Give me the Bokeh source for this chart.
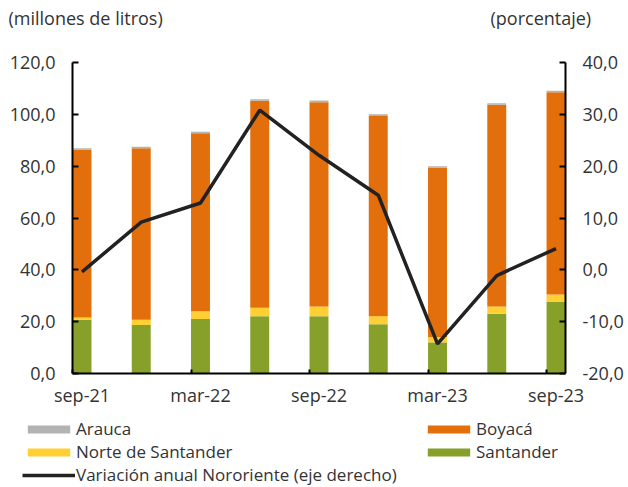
from bokeh.plotting import figure
from bokeh.models import (ColumnDataSource, Range1d, LinearAxis, FixedTicker, Legend, LegendItem, Label)
from bokeh.embed import file_html
from bokeh.resources import INLINE

# ---- data ----
periods = ["sep-21", "dic-21", "mar-22", "jun-22", "sep-22", "dic-22", "mar-23", "jun-23", "sep-23"]
tick_labels = ["sep-21", "mar-22", "sep-22", "mar-23", "sep-23"]
santander = [20.7, 18.7, 21.0, 22.1, 22.1, 19.0, 12.0, 23.0, 27.6]
norte = [0.9, 2.0, 3.0, 3.3, 3.8, 3.1, 2.1, 2.9, 2.9]
boyaca = [64.7, 66.2, 68.7, 79.8, 78.8, 77.3, 65.3, 77.8, 78.0]
arauca = [0.6, 0.6, 0.6, 0.6, 0.6, 0.6, 0.6, 0.6, 0.6]
variacion = [-0.4, 9.2, 12.9, 30.8, 22.1, 14.4, -14.3, -1.1, 4.1]
left_ticks = [0, 20, 40, 60, 80, 100, 120]
right_ticks = [-20, -10, 0, 10, 20, 30, 40]
titles = ["(millones de litros)", "(porcentaje)"]
line_name = "Variación anual Nororiente (eje derecho)"

FONT = "Open Sans"
TXT = "#333333"
FS = "18px"
BW = 0.32
W, H = 626, 486
# plot-area geometry in canvas pixels
FL, FR, FT, FB = 72, 565, 62, 373
colors = ["#86A02A", "#FFCF33", "#E36F0C", "#B3B3B3"]
LINE_COLOR = "#222222"

xs = list(range(len(periods)))
x0, x1 = -BW / 2, xs[-1] + BW / 2
y0, y1 = left_ticks[0], left_ticks[-1]
r0, r1 = right_ticks[0], right_ticks[-1]
kx = (x1 - x0) / (FR - FL)
ky = (y1 - y0) / (FB - FT)
kr = (r1 - r0) / (FB - FT)

src = ColumnDataSource(dict(x=xs, santander=santander, norte=norte, boyaca=boyaca, arauca=arauca, var=variacion))

p = figure(width=W, height=H, output_backend="svg", toolbar_location=None,
           x_range=Range1d(x0 - FL * kx, x1 + (W - FR) * kx),
           y_range=Range1d(y0 - (H - FB) * ky, y1 + FT * ky), min_border=0)
p.extra_y_ranges = {"pct": Range1d(r0 - (H - FB) * kr, r1 + FT * kr)}
p.outline_line_color = None
p.xgrid.visible = False
p.ygrid.visible = False
p.xaxis.visible = False
p.yaxis.visible = False

rs = p.vbar_stack(["santander", "norte", "boyaca", "arauca"], x="x", width=BW, source=src,
                  color=colors, line_color=None)
ln = p.line("x", "var", source=src, y_range_name="pct", line_color=LINE_COLOR, line_width=3.5)

def style(ax):
    ax.axis_line_color = "black"
    ax.axis_line_width = 2
    ax.major_tick_line_color = "black"
    ax.major_tick_line_width = 2
    ax.minor_tick_line_color = None
    ax.major_label_text_font = FONT
    ax.major_label_text_font_size = FS
    ax.major_label_text_color = TXT

yl = LinearAxis(fixed_location=x0, bounds=(y0, y1))
style(yl)
yl.ticker = FixedTicker(ticks=left_ticks)
yl.major_label_overrides = {t: f"{t:.1f}".replace(".", ",") for t in left_ticks}
yl.major_tick_in = 6
yl.major_tick_out = 0
yl.major_label_standoff = 17
p.add_layout(yl, "left")

yr = LinearAxis(y_range_name="pct", fixed_location=x1, bounds=(r0, r1))
style(yr)
yr.ticker = FixedTicker(ticks=right_ticks)
yr.major_label_overrides = {t: f"{t:.1f}".replace(".", ",") for t in right_ticks}
yr.major_tick_in = 6
yr.major_tick_out = 0
yr.major_label_standoff = 17
p.add_layout(yr, "right")

xa = LinearAxis(fixed_location=y0, bounds=(x0, x1))
style(xa)
tick_pos = xs[::2]
xa.ticker = FixedTicker(ticks=tick_pos, minor_ticks=[t - BW / 2 for t in tick_pos])
xa.major_label_overrides = {t: lab for t, lab in zip(tick_pos, tick_labels)}
xa.major_tick_in = 0
xa.major_tick_out = 0
xa.minor_tick_line_color = "black"
xa.minor_tick_line_width = 2
xa.minor_tick_in = 4
xa.minor_tick_out = 0
xa.major_label_standoff = 9
p.add_layout(xa, "below")

# unit titles
p.add_layout(Label(x=8, y=H - 17, x_units="screen", y_units="screen", text=titles[0],
                   text_font=FONT, text_font_size=FS, text_color=TXT, text_baseline="middle"))
p.add_layout(Label(x=490, y=H - 17, x_units="screen", y_units="screen", text=titles[1],
                   text_font=FONT, text_font_size=FS, text_color=TXT, text_baseline="middle"))

legend = Legend(items=[
    LegendItem(label="Arauca", renderers=[rs[3]]),
    LegendItem(label="Norte de Santander", renderers=[rs[1]]),
    LegendItem(label=line_name, renderers=[ln]),
    LegendItem(label="Boyacá", renderers=[rs[2]]),
    LegendItem(label="Santander", renderers=[rs[0]]),
], orientation="vertical", nrows=3, location=(22, 0),
    glyph_width=53, glyph_height=10, label_standoff=1, label_width=346, label_height=20,
    spacing=0, padding=0, margin=0, border_line_color=None, background_fill_alpha=0,
    label_text_font=FONT, label_text_font_size="17px", label_text_color=TXT)
p.add_layout(legend, "center")

open("out.html", "w").write(file_html(p, INLINE))
